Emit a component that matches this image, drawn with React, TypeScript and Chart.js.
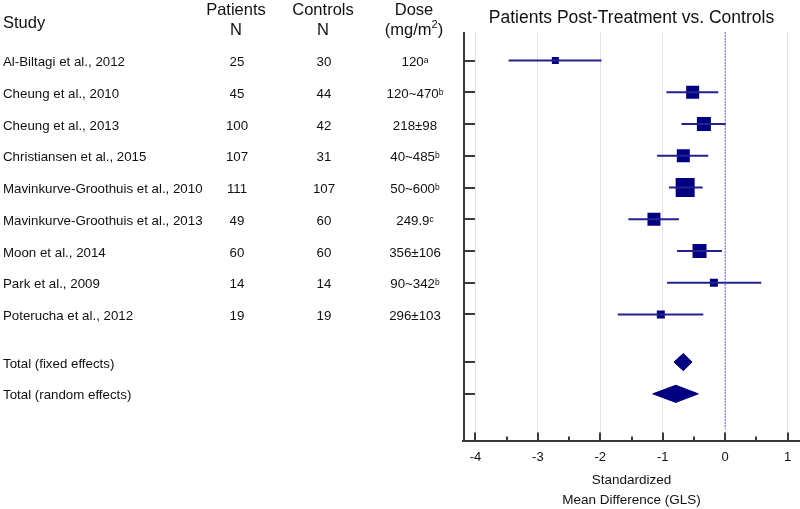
import React, { useEffect, useRef } from 'react';
import { Chart, registerables } from 'chart.js';

Chart.register(...registerables);

const STUDIES = [
  'Al-Biltagi et al., 2012',
  'Cheung et al., 2010',
  'Cheung et al., 2013',
  'Christiansen et al., 2015',
  'Mavinkurve-Groothuis et al., 2010',
  'Mavinkurve-Groothuis et al., 2013',
  'Moon et al., 2014',
  'Park et al., 2009',
  'Poterucha et al., 2012',
];
const PATIENTS_N = [25, 45, 100, 107, 111, 49, 60, 14, 19];
const CONTROLS_N = [30, 44, 42, 31, 107, 60, 60, 14, 19];
const DOSE = ['120', '120~470', '218±98', '40~485', '50~600', '249.9', '356±106', '90~342', '296±103'];
const DOSE_NOTE = ['a', 'b', '', 'b', 'b', 'c', '', 'b', ''];
const SMD = [-2.72, -0.52, -0.34, -0.67, -0.64, -1.14, -0.41, -0.18, -1.03];
const CI_LOW = [-3.47, -0.94, -0.7, -1.09, -0.9, -1.55, -0.77, -0.93, -1.72];
const CI_HIGH = [-1.98, -0.11, 0.01, -0.27, -0.36, -0.74, -0.05, 0.58, -0.35];
const WEIGHT_MARK = [7, 13, 14, 13, 19, 13, 14, 8, 8];
const TOTAL_LABELS = ['Total (fixed effects)', 'Total (random effects)'];
const TOTAL_SMD = [-0.67, -0.79];
const TOTAL_LOW = [-0.82, -1.16];
const TOTAL_HIGH = [-0.53, -0.43];
const X_TICKS = [-4, -3, -2, -1, 0, 1];
const TITLE = 'Patients Post-Treatment vs. Controls';
const X_TITLE = ['Standardized', 'Mean Difference (GLS)'];

const FONT = "'Liberation Sans', Arial, sans-serif";
const NAVY = '#000080';
const LINE_NAVY = '#22228f';

const STUDY_ROWS = STUDIES.map((_, i) => i + 1);
const TOTAL_ROWS = TOTAL_LABELS.map((_, i) => STUDIES.length + 1.5 + i);
const Y_MIN = 0.1;
const Y_MAX = STUDIES.length + 4;
const DIAMOND_HALF = 0.27;

const ROW_FONT = 13.3;

const tablePlugin = {
  id: 'forestTable',
  afterDraw(chart: any) {
    const { ctx, chartArea, scales } = chart;
    const y = scales.y;
    const x = scales.x;
    ctx.save();
    // left axis
    ctx.strokeStyle = '#3a3a3a';
    ctx.lineWidth = 2;
    ctx.beginPath();
    ctx.moveTo(chartArea.left + 1, chartArea.top);
    ctx.lineTo(chartArea.left + 1, chartArea.bottom);
    ctx.stroke();
    [...STUDY_ROWS, ...TOTAL_ROWS].forEach((r) => {
      const py = Math.round(y.getPixelForValue(r));
      ctx.beginPath();
      ctx.moveTo(chartArea.left, py);
      ctx.lineTo(chartArea.left + 12, py);
      ctx.stroke();
    });
    // bottom axis ticks (pointing up)
    X_TICKS.forEach((v, i) => {
      const px = Math.round(x.getPixelForValue(v));
      ctx.beginPath();
      ctx.moveTo(px, chartArea.bottom);
      ctx.lineTo(px, chartArea.bottom - 9);
      ctx.stroke();
      if (i < X_TICKS.length - 1) {
        const mx = Math.round(x.getPixelForValue(v + 0.5));
        ctx.beginPath();
        ctx.moveTo(mx, chartArea.bottom);
        ctx.lineTo(mx, chartArea.bottom - 5);
        ctx.stroke();
      }
    });

    // table headers
    ctx.fillStyle = '#111';
    ctx.textBaseline = 'alphabetic';
    ctx.font = `16.5px ${FONT}`;
    ctx.textAlign = 'left';
    ctx.fillText('Study', 3, 28);
    ctx.textAlign = 'center';
    ctx.fillText('Patients', 236, 15);
    ctx.fillText('N', 236, 35);
    ctx.fillText('Controls', 323, 15);
    ctx.fillText('N', 323, 35);
    ctx.fillText('Dose', 414, 15);
    const p1 = '(mg/m';
    const p3 = ')';
    ctx.font = `16.5px ${FONT}`;
    const w1 = ctx.measureText(p1).width;
    const w3 = ctx.measureText(p3).width;
    ctx.font = `11px ${FONT}`;
    const w2 = ctx.measureText('2').width;
    const sx = 414 - (w1 + w2 + w3) / 2;
    ctx.textAlign = 'left';
    ctx.font = `16.5px ${FONT}`;
    ctx.fillText(p1, sx, 35);
    ctx.font = `11px ${FONT}`;
    ctx.fillText('2', sx + w1, 28);
    ctx.font = `16.5px ${FONT}`;
    ctx.fillText(p3, sx + w1 + w2, 35);

    // rows
    ctx.textBaseline = 'middle';
    STUDIES.forEach((s, i) => {
      const py = y.getPixelForValue(STUDY_ROWS[i]) + 2;
      ctx.font = `${ROW_FONT}px ${FONT}`;
      ctx.textAlign = 'left';
      ctx.fillText(s, 3, py);
      ctx.textAlign = 'center';
      ctx.fillText(String(PATIENTS_N[i]), 237, py);
      ctx.fillText(String(CONTROLS_N[i]), 324, py);
      const main = DOSE[i];
      const note = DOSE_NOTE[i];
      const mw = ctx.measureText(main).width;
      ctx.font = `8.5px ${FONT}`;
      const nw = note ? ctx.measureText(note).width : 0;
      const start = 415 - (mw + nw) / 2;
      ctx.textAlign = 'left';
      ctx.font = `${ROW_FONT}px ${FONT}`;
      ctx.fillText(main, start, py);
      if (note) {
        ctx.font = `8.5px ${FONT}`;
        ctx.fillText(note, start + mw, py - 2);
      }
    });
    TOTAL_LABELS.forEach((s, i) => {
      const py = y.getPixelForValue(TOTAL_ROWS[i]) + 2;
      ctx.font = `${ROW_FONT}px ${FONT}`;
      ctx.textAlign = 'left';
      ctx.fillText(s, 3, py);
    });
    ctx.restore();
  },
};

export default function App() {
  const ref = useRef<HTMLCanvasElement | null>(null);
  useEffect(() => {
    document.body.style.margin = '0';
    const canvas = ref.current;
    if (!canvas) return;

    const datasets: any[] = [];
    datasets.push({
      type: 'line',
      data: [
        { x: 0, y: Y_MIN },
        { x: 0, y: Y_MAX - 0.4 },
      ],
      borderColor: '#6a6ad8',
      borderWidth: 1,
      borderDash: [2, 1],
      pointRadius: 0,
      fill: false,
    });
    STUDIES.forEach((_, i) => {
      datasets.push({
        type: 'line',
        data: [
          { x: CI_LOW[i], y: STUDY_ROWS[i] },
          { x: CI_HIGH[i], y: STUDY_ROWS[i] },
        ],
        borderColor: LINE_NAVY,
        borderWidth: 2,
        pointRadius: 0,
        fill: false,
      });
    });
    datasets.push({
      type: 'scatter',
      data: STUDIES.map((_, i) => ({ x: SMD[i], y: STUDY_ROWS[i] })),
      pointStyle: 'rect',
      pointRadius: WEIGHT_MARK.map((s) => s / Math.SQRT2),
      backgroundColor: NAVY,
      borderColor: NAVY,
      borderWidth: 0,
    });
    TOTAL_LABELS.forEach((_, i) => {
      const r = TOTAL_ROWS[i];
      datasets.push({
        type: 'line',
        data: [
          { x: TOTAL_LOW[i], y: r },
          { x: TOTAL_SMD[i], y: r - DIAMOND_HALF },
          { x: TOTAL_HIGH[i], y: r },
          { x: TOTAL_SMD[i], y: r + DIAMOND_HALF },
          { x: TOTAL_LOW[i], y: r },
        ],
        borderColor: NAVY,
        backgroundColor: NAVY,
        borderWidth: 1,
        pointRadius: 0,
        tension: 0,
        fill: 'shape',
      });
    });

    const chart = new Chart(canvas, {
      type: 'scatter',
      data: { datasets },
      options: {
        responsive: false,
        animation: false,
        layout: { autoPadding: false, padding: { left: 463, right: 0, top: 0, bottom: 0 } },
        plugins: {
          legend: { display: false },
          tooltip: { enabled: false },
          title: {
            display: true,
            text: TITLE,
            color: '#111',
            font: { family: FONT, size: 17.5, weight: 'normal' },
            padding: { top: 8, bottom: 3 },
          },
        },
        scales: {
          x: {
            type: 'linear',
            min: -4.2,
            max: 1.2,
            afterBuildTicks: (s: any) => {
              s.ticks = X_TICKS.map((v) => ({ value: v }));
            },
            ticks: {
              color: '#111',
              font: { family: FONT, size: 13 },
              padding: 8,
              maxRotation: 0,
              autoSkip: false,
              callback: (v: any) => String(v),
            },
            grid: { color: '#e2e2e2', lineWidth: 1, drawTicks: false },
            border: { display: true, color: '#3a3a3a', width: 2 },
            title: {
              display: true,
              text: X_TITLE,
              color: '#111',
              font: { family: FONT, size: 13.5, lineHeight: 1.48 },
              padding: { top: -3, bottom: -1 },
            },
          },
          y: {
            type: 'linear',
            display: false,
            min: Y_MIN,
            max: Y_MAX,
            reverse: true,
          },
        },
      },
      plugins: [tablePlugin],
    } as any);
    return () => chart.destroy();
  }, []);
  return (
    <div style={{ width: 800, height: 509 }}>
      <canvas ref={ref} width={800} height={509} />
    </div>
  );
}
